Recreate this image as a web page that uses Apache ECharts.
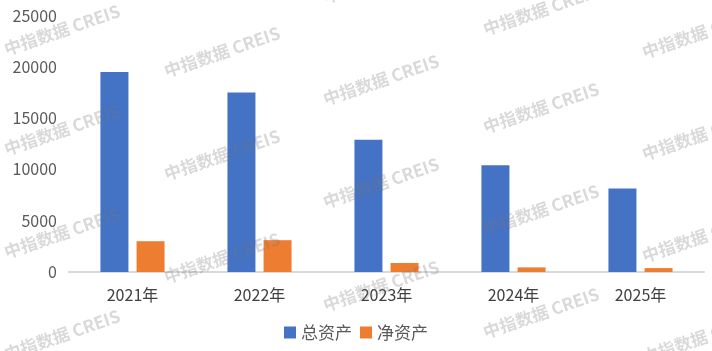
<!DOCTYPE html>
<html><head><meta charset="utf-8">
<script src="https://cdn.jsdelivr.net/npm/echarts@6/dist/echarts.min.js"></script>
<style>html,body{margin:0;padding:0;background:#fff}#c{width:712px;height:351px}</style>
</head><body><div id="c"></div>
<script>
const categories = ['2021年','2022年','2023年','2024年','2025年'];
const totalAssets = [19500, 17500, 12900, 10400, 8150];
const netAssets = [3000, 3100, 880, 450, 380];
const seriesNames = ['总资产','净资产'];
const watermarkText = '中指数据 CREIS';

const wmCenters = [
  [62,30],[62,130],[62,233],[62,335],
  [222,52],[222,155],[222,258],
  [381,-22],[381,80],[381,183],[381,286],
  [541,10],[541,108],[541,210],[541,313],
  [700,33],[700,135],[700,237],[700,338]
];
const graphics = wmCenters.map(c => ({
  type:'text', x:c[0], y:c[1], rotation: 19*Math.PI/180, z:100, silent:true,
  style:{text:watermarkText, fill:'rgba(120,120,120,0.28)', font:'bold 17px "Noto Sans CJK SC", sans-serif', align:'center', verticalAlign:'middle'}
}));

const chart = echarts.init(document.getElementById('c'), null, {renderer:'canvas'});
chart.setOption({
  animation:false,
  textStyle:{fontFamily:'"Noto Sans CJK SC", sans-serif'},
  grid:{left:69, right:8, top:15.5, bottom:79, containLabel:false},
  legend:{
    data:seriesNames, bottom:5, left:'center', itemWidth:12, itemHeight:12, itemGap:8,
    icon:'rect', textStyle:{fontSize:17, color:'#595959'}
  },
  xAxis:{
    type:'category', data:categories,
    axisLine:{lineStyle:{color:'#d9d9d9', width:2}},
    axisTick:{show:false},
    axisLabel:{fontSize:16, color:'#404040', margin:15}
  },
  yAxis:{
    type:'value', min:0, max:25000, interval:5000,
    splitLine:{show:false}, axisLine:{show:false}, axisTick:{show:false},
    axisLabel:{fontSize:16, color:'#595959', margin:12, formatter:v => String(v)}
  },
  series:[
    {name:seriesNames[0], type:'bar', data:totalAssets, barWidth:28, barGap:'29%', itemStyle:{color:'#4472C4'}},
    {name:seriesNames[1], type:'bar', data:netAssets, barWidth:28, barGap:'29%', itemStyle:{color:'#ED7D31'}}
  ],
  graphic: graphics
});
</script></body></html>
